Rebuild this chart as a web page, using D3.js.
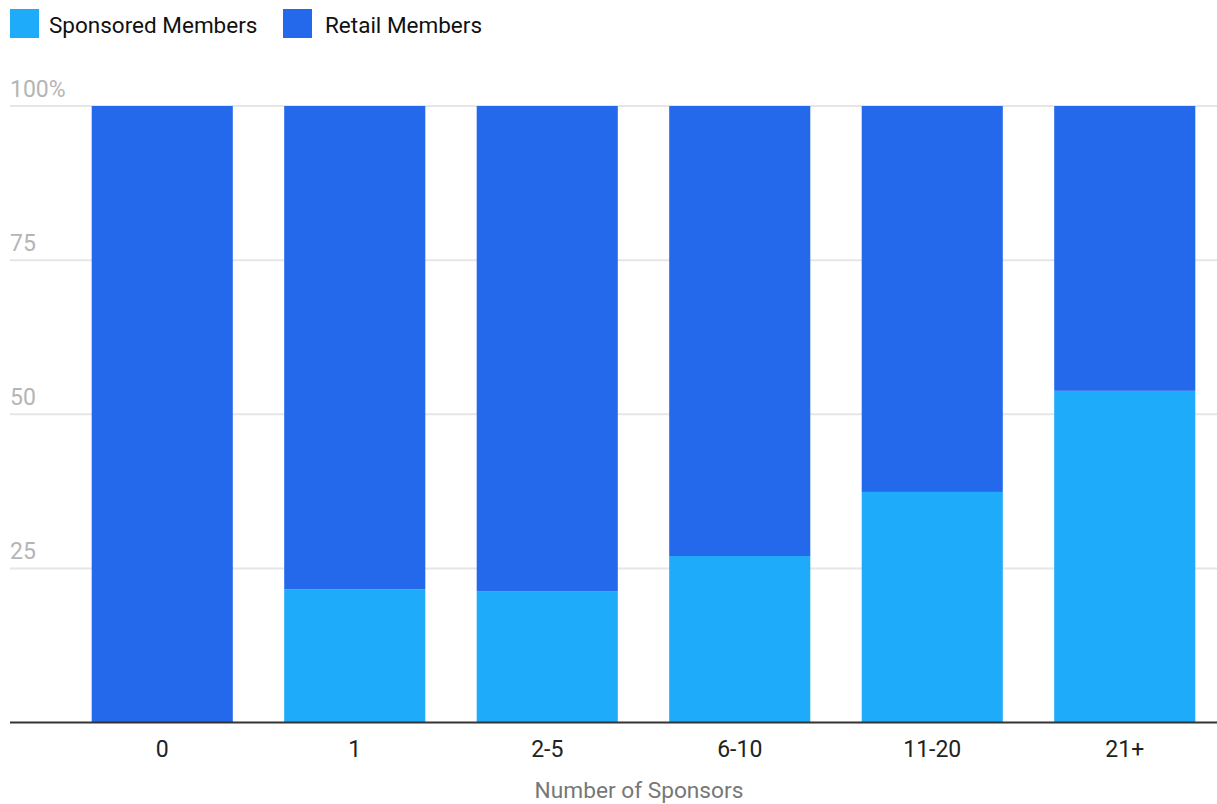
<!DOCTYPE html>
<html>
<head>
<meta charset="utf-8">
<script src="https://cdn.jsdelivr.net/npm/d3@7"></script>
<style>
  body { margin: 0; background: #fff; }
  svg { font-family: Roboto, sans-serif; }
</style>
</head>
<body>
<svg id="chart"></svg>
<script>
const categories = ['0', '1', '2-5', '6-10', '11-20', '21+'];
const sponsored = [0, 21.6, 21.3, 27.0, 37.4, 53.8];
const retail = sponsored.map(v => 100 - v);
const seriesNames = ['Sponsored Members', 'Retail Members'];
const seriesColors = ['#1eabf9', '#2469ec'];
const yTicks = [25, 50, 75, 100];

const width = 1217, height = 804;
const svg = d3.select('#chart').attr('width', width).attr('height', height);

const x = d3.scaleBand()
    .domain(categories)
    .range([66, 1221])
    .paddingInner(0.267)
    .paddingOuter(0.1335);

const y = d3.scaleLinear().domain([0, 100]).range([722.5, 106]);

// gridlines + labels
const grid = svg.append('g');
grid.selectAll('line')
    .data(yTicks)
    .join('line')
    .attr('x1', 10).attr('x2', width)
    .attr('y1', d => y(d)).attr('y2', d => y(d))
    .attr('stroke', '#e6e6e6')
    .attr('stroke-width', 2);

grid.selectAll('text')
    .data(yTicks)
    .join('text')
    .attr('x', 10)
    .attr('y', d => y(d) - 9)
    .attr('fill', '#b5b5b5')
    .attr('font-size', 23)
    .text(d => d === 100 ? '100%' : d);

// stacked bars
const rows = categories.map((c, i) => ({ cat: c, sponsored: sponsored[i], retail: retail[i] }));
const stack = d3.stack().keys(['sponsored', 'retail'])(rows);

svg.append('g')
  .selectAll('g')
  .data(stack)
  .join('g')
    .attr('fill', (d, i) => seriesColors[i])
  .selectAll('rect')
  .data(d => d)
  .join('rect')
    .attr('x', d => x(d.data.cat))
    .attr('width', x.bandwidth())
    .attr('y', d => y(d[1]))
    .attr('height', d => y(d[0]) - y(d[1]));

// baseline
svg.append('line')
    .attr('x1', 10).attr('x2', width)
    .attr('y1', y(0)).attr('y2', y(0))
    .attr('stroke', '#333')
    .attr('stroke-width', 2);

// x labels
svg.append('g')
  .selectAll('text')
  .data(categories)
  .join('text')
    .attr('x', d => x(d) + x.bandwidth() / 2)
    .attr('y', 757)
    .attr('text-anchor', 'middle')
    .attr('fill', '#222')
    .attr('font-size', 23)
    .text(d => d);

svg.append('text')
    .attr('x', 639)
    .attr('y', 798)
    .attr('text-anchor', 'middle')
    .attr('fill', '#777')
    .attr('font-size', 22.7)
    .text('Number of Sponsors');

// legend
const legendX = [10, 283];
const legend = svg.append('g')
  .selectAll('g')
  .data(seriesNames)
  .join('g')
    .attr('transform', (d, i) => `translate(${legendX[i]}, 9)`);

legend.append('rect')
    .attr('width', 29).attr('height', 29)
    .attr('fill', (d, i) => seriesColors[i]);

legend.append('text')
    .attr('x', (d, i) => i === 0 ? 39 : 42)
    .attr('y', 24)
    .attr('fill', '#111')
    .attr('font-size', 22.5)
    .text(d => d);
</script>
</body>
</html>
